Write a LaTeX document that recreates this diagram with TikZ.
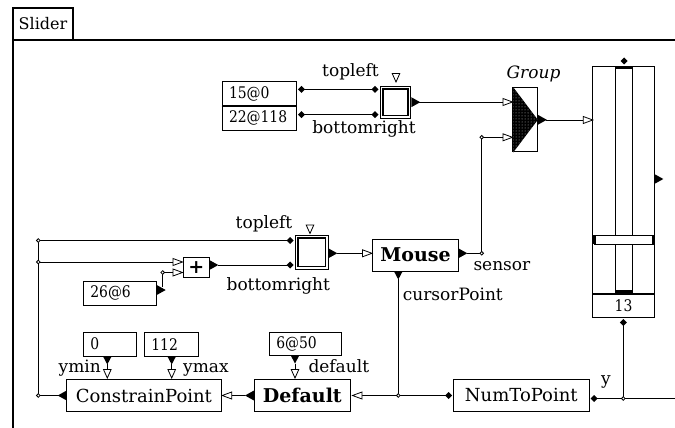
\documentclass[tikz,border=0pt]{standalone}
\usepackage{fontspec}
\usepackage{graphicx}
\setmainfont{DejaVu Serif}
\usetikzlibrary{patterns}
\newcommand{\valtxt}[1]{\scalebox{0.87}[1]{#1}}
\tikzset{
 wire/.style={line width=1pt},
 box/.style={draw, line width=1pt, inner sep=0pt},
 namefont/.style={font=\fontsize{18}{20}\selectfont},
 boldfont/.style={font=\fontsize{19}{21}\selectfont\bfseries},
 valbox/.style={box, align=left, inner xsep=7pt, inner ysep=0pt, font=\fontsize{16}{18}\selectfont},
 lab/.style={inner sep=0pt, font=\fontsize{17}{19}\selectfont},
 outR/.pic={\fill (0,-5) -- (9,0) -- (0,5) -- cycle;},
 outL/.pic={\fill (0,-5) -- (-9,0) -- (0,5) -- cycle;},
 outD/.pic={\fill (-4.5,0) -- (0,8.5) -- (4.5,0) -- cycle;},
 inR/.pic={\draw[line width=0.8pt,fill=white] (0,-3.5) -- (9.5,0) -- (0,3.5) -- cycle;},
 inL/.pic={\draw[line width=0.8pt,fill=white] (0,-3.5) -- (-9.5,0) -- (0,3.5) -- cycle;},
 inD/.pic={\draw[line width=0.8pt,fill=white] (-3.8,0) -- (0,8.5) -- (3.8,0) -- cycle;},
 dia/.pic={\fill (-3.5,0) -- (0,-3.5) -- (3.5,0) -- (0,3.5) -- cycle;},
 jn/.pic={\draw[line width=0.8pt,fill=white] (0,0) circle[radius=1.8pt];}
}
\begin{document}
\begin{tikzpicture}[x=1pt,y=-1pt,font=\fontsize{16}{18}\selectfont]
\useasboundingbox[fill=white] (0,0) rectangle (675,428);
% frame
\node[box, line width=1.5pt, minimum width=60pt, minimum height=32pt] (tab) at (43,24) {Slider};
\draw[line width=2pt] (13,428) -- (13,40) -- (675,40);

% ---------- top section
\node[valbox, text width=60pt, minimum height=24.3pt] (n15) at (259,93.8) {\valtxt{15@0}};
\node[valbox, text width=60pt, minimum height=24.7pt] (n22) at (259,118.4) {\valtxt{22@118}};
\draw[line width=1.8pt] (n15.south west) -- (n15.south east);
\node[box, minimum width=30.7pt, minimum height=32.3pt] (r1) at (395.4,102.2) {};
\node[box, line width=1.2pt, minimum width=25pt, minimum height=26.5pt] (r1i) at (r1.center) {};
\node[lab, anchor=base] (tl1) at (350.5,77) {topleft};
\node[lab, anchor=base] (br1) at (364,133) {bottomright};

\coordinate (n15o) at (301.5,89.3);
\coordinate (n22o) at (301.5,114.7);
\coordinate (r1tl) at (375,89.3);
\coordinate (r1br) at (375,114.7);
\coordinate (r1o) at (419,102);
\coordinate (g1) at (503,102);
\coordinate (g2) at (503,137.3);
\coordinate (jm) at (481.7,137.3);
\draw[wire] (n15o) -- (r1tl);
\draw[wire] (n22o) -- (r1br);
\draw[wire] (r1o) -- (g1);

% group
\node[box, minimum width=24.6pt, minimum height=64.3pt] (grp) at (525,119.8) {};
\fill[black] ([xshift=1pt]grp.north west) -- (grp.east) -- ([xshift=1pt]grp.south west) -- cycle;
\fill[pattern=dots, pattern color=white!75!black] ([xshift=1pt]grp.north west) -- (grp.east) -- ([xshift=1pt]grp.south west) -- cycle;
\node[lab, anchor=base, font=\fontsize{17}{19}\selectfont\itshape] (glab) at (533.5,78.3) {Group};
\coordinate (go) at (545.5,120);
\coordinate (si) at (583.3,120);
\draw[wire] (go) -- (si);

% slider
\node[box, minimum width=61.6pt, minimum height=226.6pt] (sl) at (623.5,180) {};
\node[valbox, align=center, text width=47.6pt, minimum height=24pt] (sl13) at (623.5,305.3) {\valtxt{13}};
\draw[line width=2pt] (sl.south west) -- (sl.south east);
\draw[line width=1pt] (615.7,66.7) -- (615.7,235) (632.3,66.7) -- (632.3,235)
  (615.7,244.3) -- (615.7,293) (632.3,244.3) -- (632.3,293);
\draw[line width=1.8pt] (615.7,67.8) -- (632.3,67.8);
\fill (615.7,290) rectangle (632.3,293.3);
\draw[line width=1pt] (594,235) rectangle (653.3,244.3);
\fill (593,235) rectangle (595.8,244.3);
\fill (651.5,235) rectangle (654.3,244.3);
\coordinate (slb) at (623.3,322.5);
\coordinate (jy) at (623.3,398.5);
\draw[wire] (slb) -- (jy);

% ---------- middle section
\node[box, minimum width=33.3pt, minimum height=34.3pt] (r2) at (311.65,252.15) {};
\node[box, line width=1.2pt, minimum width=27.5pt, minimum height=28.5pt] (r2i) at (r2.center) {};
\node[lab, anchor=base] (tl2) at (264,228) {topleft};
\node[lab, anchor=base] (br2) at (278.3,290) {bottomright};
\node[box, boldfont, minimum width=85.6pt, minimum height=32pt] (mouse) at (415.5,255) {Mouse};
\node[lab, anchor=base west] (sens) at (473.3,270) {sensor};
\node[lab, anchor=base west] (curs) at (402.7,300) {cursorPoint};
\node[box, boldfont, minimum width=26pt, minimum height=19.6pt] (plus) at (196.3,267.5) {+};
\node[valbox, text width=59.4pt, minimum height=24pt] (n26) at (120,293) {\valtxt{26@6}};

\coordinate (r2tl) at (290,240.5);
\coordinate (r2br) at (290,265);
\coordinate (r2o) at (337,253.3);
\coordinate (mi) at (362.5,253.3);
\coordinate (mo) at (467,253.3);
\coordinate (js) at (481.7,253.3);
\coordinate (mc) at (398.3,279);
\coordinate (jc) at (398.3,395.5);
\coordinate (pin1) at (173,262);
\coordinate (pin2) at (173,272.5);
\coordinate (po) at (218,265);
\coordinate (n26o) at (162.7,286.5);
\coordinate (j26) at (162.7,272.5);
\coordinate (jl1) at (38.3,240.5);
\coordinate (jl2) at (38.3,262);
\coordinate (jl3) at (38.3,395.5);
\draw[wire] (r2o) -- (mi);
\draw[wire] (mo) -- (js) -- (jm) -- (g2);
\draw[wire] (po) -- (r2br);
\draw[wire] (n26o) -- (j26) -- (pin2);
\draw[wire] (jl3) -- (jl1) -- (r2tl);
\draw[wire] (jl2) -- (pin1);

% ---------- bottom section
\node[box, namefont, minimum width=154.3pt, minimum height=32.4pt] (cp) at (143.85,395.5) {ConstrainPoint};
\node[box, boldfont, minimum width=96.7pt, minimum height=32.4pt] (dflt) at (302.35,395.5) {Default};
\node[box, namefont, minimum width=136pt, minimum height=32.4pt] (ntp) at (521.3,395.5) {NumToPoint};
\node[valbox, text width=38.7pt, minimum height=23.7pt] (n0) at (109.65,344.15) {\valtxt{0}};
\node[valbox, text width=40pt, minimum height=23.7pt] (n112) at (171.3,344.15) {\valtxt{112}};
\node[valbox, text width=58.4pt, minimum height=22.3pt] (n650) at (305.5,343.85) {\valtxt{6@50}};
\node[lab, anchor=base east] (ymin) at (101,372) {ymin};
\node[lab, anchor=base west] (ymax) at (183,372) {ymax};
\node[lab, anchor=base west] (deflab) at (308.3,372) {default};
\node[lab, anchor=base west] (ylab) at (601,384) {y};

\coordinate (cpo) at (58,395.5);
\coordinate (cpi) at (231.7,395.5);
\coordinate (dfo) at (245,395.5);
\coordinate (dfi) at (362,395.5);
\coordinate (ntpi) at (448.5,395.5);
\coordinate (ntpo) at (594,398.5);
\coordinate (edge) at (675,398.5);
\coordinate (n0o) at (107.3,364);
\coordinate (n0i) at (107.3,369.5);
\coordinate (n112o) at (171.7,364);
\coordinate (n112i) at (171.7,369.5);
\coordinate (n650o) at (295,363.5);
\coordinate (n650i) at (295,369.5);
\draw[wire] (jl3) -- (cpo);
\draw[wire] (dfo) -- (cpi);
\draw[wire] (dfi) -- (jc) -- (ntpi);
\draw[wire] (mc) -- (jc);
\draw[wire] (ntpo) -- (edge);
\draw[wire] (n0o) -- (n0i);
\draw[wire] (n112o) -- (n112i);
\draw[wire] (n650o) -- (n650i);

% ---------- terminals
\pic at (n15o) {dia};
\pic at (n22o) {dia};
\pic at (r1tl) {dia};
\pic at (r1br) {dia};
\pic at (396,73.5) {inD};
\pic at (r1.east) {outR};
\pic at (g1) {inR};
\pic at (g2) {inR};
\pic at (jm) {jn};
\pic at (grp.east) {outR};
\pic at (si) {inR};
\pic at (624,61) {dia};
\pic at (654.3,179) {outR};
\pic at (slb) {dia};
\pic at (jy) {jn};
\pic at (r2tl) {dia};
\pic at (r2br) {dia};
\pic at (310,225) {inD};
\pic at (328.3,253.3) {outR};
\pic at (mi) {inR};
\pic at (458.3,253.3) {outR};
\pic at (js) {jn};
\pic at (398.3,271) {outD};
\pic at (pin1) {inR};
\pic at (pin2) {inR};
\pic at (209.3,265) {outR};
\pic at (156.7,290) {outR};
\pic at (j26) {jn};
\pic at (jl1) {jn};
\pic at (jl2) {jn};
\pic at (jl3) {jn};
\pic at (66.7,395.5) {outL};
\pic at (cpi) {inL};
\pic at (254,395.5) {outL};
\pic at (dfi) {inL};
\pic at (jc) {jn};
\pic at (ntpi) {dia};
\pic at (ntpo) {dia};
\pic at (107.3,356) {outD};
\pic at (n0i) {inD};
\pic at (171.7,356) {outD};
\pic at (n112i) {inD};
\pic at (295,355) {outD};
\pic at (n650i) {inD};
\end{tikzpicture}
\end{document}
